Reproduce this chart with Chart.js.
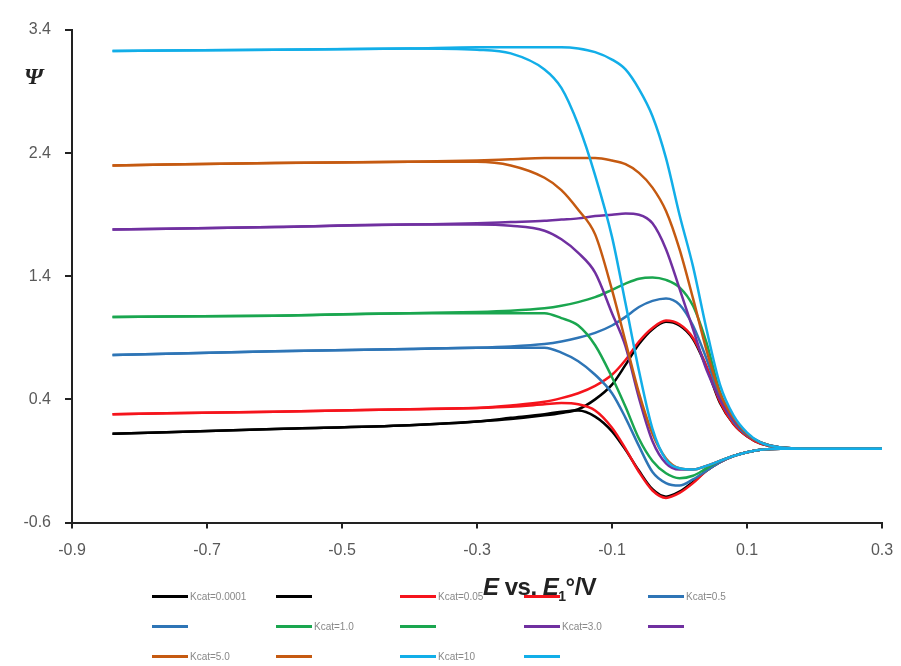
<!DOCTYPE html>
<html>
<head>
<meta charset="utf-8">
<script src="https://cdn.jsdelivr.net/npm/chart.js@4/dist/chart.umd.min.js"></script>
<style>
  body { margin: 0; background: #fff; }
  #wrap { position: relative; width: 901px; height: 666px; }
  #psi { position: absolute; left: 24px; top: 64px; font: italic bold 24px 'Liberation Serif', serif; color: #222; line-height: 1; }
  #xtitle { position: absolute; left: 483px; top: 575px; font: bold 24px 'Liberation Sans', sans-serif; color: #222; white-space: nowrap; line-height: 1; letter-spacing: -0.5px; }
  #xtitle sub { font-size: 14px; }
  #legend { position: absolute; left: 152px; top: 588px; display: grid; grid-template-columns: repeat(5, 124px); grid-auto-rows: 30px; }
  .item { display: flex; align-items: center; height: 16px; font: 10px 'Liberation Sans', sans-serif; color: #888; }
  .item span.ln { display: inline-block; width: 36px; height: 3px; margin-right: 2px; }
</style>
</head>
<body>
<div id="wrap">
  <canvas id="cv"></canvas>
  <div id="psi">Ψ</div>
  <div id="xtitle"><i>E</i> vs. <i>E</i><sub>1</sub>°/V</div>
  <div id="legend"></div>
</div>
<script>
// potentiel (V) - grille commune aux deux branches
var E = [-0.84, -0.6, -0.4, -0.3, -0.25, -0.2, -0.175, -0.15, -0.125, -0.1, -0.08, -0.06, -0.04, -0.02, 0, 0.02, 0.04, 0.06, 0.08, 0.1, 0.12, 0.15, 0.2, 0.3];

var xTicks = [-0.9, -0.7, -0.5, -0.3, -0.1, 0.1, 0.3];
var yTicks = [-0.6, 0.4, 1.4, 2.4, 3.4];

var seriesNames = ['Kcat=0.0001', 'Kcat=0.05', 'Kcat=0.5', 'Kcat=1.0', 'Kcat=3.0', 'Kcat=5.0', 'Kcat=10'];
var seriesColors = ['#000000', '#f5141c', '#2e75b6', '#1aa64f', '#7030a0', '#c55a11', '#12aee8'];

// branche haute / branche basse pour chaque kcat
var k00001Up = [0.12, 0.16, 0.19, 0.22, 0.24, 0.27, 0.29, 0.32, 0.40, 0.52, 0.68, 0.85, 0.97, 1.03, 1.00, 0.89, 0.66, 0.37, 0.20, 0.10, 0.04, 0.01, 0.0, 0.0];
var k00001Down = [0.12, 0.16, 0.19, 0.22, 0.25, 0.28, 0.30, 0.31, 0.26, 0.14, -0.01, -0.18, -0.33, -0.39, -0.35, -0.27, -0.18, -0.11, -0.06, -0.03, -0.01, 0.0, 0.0, 0.0];

var k005Up = [0.28, 0.30, 0.32, 0.33, 0.35, 0.38, 0.41, 0.45, 0.51, 0.60, 0.72, 0.87, 0.98, 1.04, 1.01, 0.90, 0.67, 0.38, 0.20, 0.10, 0.04, 0.01, 0.0, 0.0];
var k005Down = [0.28, 0.30, 0.32, 0.33, 0.34, 0.36, 0.37, 0.36, 0.31, 0.17, 0.0, -0.19, -0.34, -0.40, -0.36, -0.28, -0.18, -0.11, -0.06, -0.03, -0.01, 0.0, 0.0, 0.0];

var k05Up = [0.76, 0.79, 0.81, 0.82, 0.83, 0.85, 0.87, 0.90, 0.94, 1.00, 1.07, 1.15, 1.20, 1.22, 1.17, 1.00, 0.73, 0.42, 0.22, 0.11, 0.05, 0.01, 0.0, 0.0];
var k05Down = [0.76, 0.79, 0.81, 0.82, 0.82, 0.82, 0.78, 0.71, 0.60, 0.45, 0.25, 0.02, -0.19, -0.28, -0.30, -0.25, -0.18, -0.11, -0.06, -0.03, -0.01, 0.0, 0.0, 0.0];

var k1Up = [1.07, 1.08, 1.10, 1.11, 1.12, 1.14, 1.16, 1.19, 1.23, 1.29, 1.34, 1.38, 1.39, 1.37, 1.31, 1.16, 0.86, 0.46, 0.24, 0.12, 0.05, 0.01, 0.0, 0.0];
var k1Down = [1.07, 1.08, 1.10, 1.10, 1.10, 1.10, 1.06, 1.00, 0.84, 0.58, 0.34, 0.08, -0.10, -0.20, -0.24, -0.22, -0.16, -0.10, -0.06, -0.03, -0.01, 0.0, 0.0, 0.0];

var k3Up = [1.78, 1.80, 1.82, 1.83, 1.84, 1.85, 1.86, 1.87, 1.89, 1.90, 1.91, 1.90, 1.83, 1.62, 1.30, 0.97, 0.64, 0.40, 0.23, 0.12, 0.05, 0.01, 0.0, 0.0];
var k3Down = [1.78, 1.80, 1.82, 1.82, 1.81, 1.77, 1.70, 1.59, 1.43, 1.10, 0.83, 0.41, 0.06, -0.12, -0.17, -0.17, -0.14, -0.10, -0.06, -0.03, -0.01, 0.0, 0.0, 0.0];

var k5Up = [2.30, 2.32, 2.33, 2.34, 2.35, 2.36, 2.36, 2.36, 2.36, 2.34, 2.31, 2.24, 2.12, 1.93, 1.62, 1.22, 0.80, 0.45, 0.25, 0.12, 0.05, 0.01, 0.0, 0.0];
var k5Down = [2.30, 2.32, 2.33, 2.33, 2.30, 2.20, 2.10, 1.94, 1.74, 1.29, 0.87, 0.45, 0.12, -0.08, -0.16, -0.17, -0.14, -0.10, -0.06, -0.03, -0.01, 0.0, 0.0, 0.0];

var k10Up = [3.23, 3.24, 3.25, 3.26, 3.26, 3.26, 3.26, 3.25, 3.22, 3.16, 3.08, 2.92, 2.70, 2.36, 1.90, 1.48, 0.97, 0.52, 0.27, 0.13, 0.05, 0.01, 0.0, 0.0];
var k10Down = [3.23, 3.24, 3.25, 3.24, 3.21, 3.08, 2.93, 2.63, 2.22, 1.72, 1.18, 0.63, 0.16, -0.09, -0.16, -0.17, -0.14, -0.10, -0.06, -0.03, -0.01, 0.0, 0.0, 0.0];

var branches = [
    [k00001Up, k00001Down],
    [k005Up, k005Down],
    [k05Up, k05Down],
    [k1Up, k1Down],
    [k3Up, k3Down],
    [k5Up, k5Down],
    [k10Up, k10Down]
];

function toPoints(vals) {
    return E.map(function (x, j) { return { x: x, y: vals[j] }; });
}

var datasets = [];
branches.forEach(function (pair, i) {
    pair.forEach(function (vals, b) {
        datasets.push({
            label: b === 0 ? seriesNames[i] : '',
            data: toPoints(vals),
            borderColor: seriesColors[i],
            backgroundColor: seriesColors[i],
            borderWidth: 2.5,
            showLine: true,
            pointRadius: 0,
            cubicInterpolationMode: 'monotone'
        });
    });
});
// le dernier jeu de données dessiné au-dessus (comme Excel)
datasets.forEach(function (ds, i) { ds.order = datasets.length - i; });

var tickFont = { family: "'Liberation Sans Narrow', 'Liberation Sans', sans-serif", size: 16 };

var ctx = document.getElementById('cv').getContext('2d');
var chart = new Chart(ctx, {
    type: 'scatter',
    data: { datasets: datasets },
    options: {
        responsive: true,
        maintainAspectRatio: false,
        animation: false,
        layout: { padding: { top: 30, right: 19, bottom: 0, left: 0 } },
        plugins: { legend: { display: false }, tooltip: { enabled: false } },
        scales: {
            x: {
                type: 'linear',
                min: -0.9,
                max: 0.3,
                afterBuildTicks: function (scale) { scale.ticks = xTicks.map(function (v) { return { value: v }; }); },
                afterFit: function (scale) { scale.height = 666 - 522.5; scale.paddingLeft = 0; scale.paddingRight = 0; },
                ticks: { color: '#595959', font: tickFont, padding: 12, maxRotation: 0,
                    callback: function (v) { return v.toFixed(1); } },
                grid: { drawOnChartArea: false, color: '#222', tickLength: 6, lineWidth: 2 },
                border: { color: '#222', width: 2 }
            },
            y: {
                type: 'linear',
                min: -0.6,
                max: 3.4,
                afterBuildTicks: function (scale) { scale.ticks = yTicks.map(function (v) { return { value: v }; }); },
                afterFit: function (scale) { scale.width = 72; scale.paddingTop = 0; scale.paddingBottom = 0; },
                ticks: { color: '#595959', font: tickFont, padding: 14,
                    callback: function (v) { return v.toFixed(1); } },
                grid: { drawOnChartArea: false, color: '#222', tickLength: 7, lineWidth: 2 },
                border: { color: '#222', width: 2 }
            }
        }
    }
});

// légende en grille (5 colonnes), entrées sans nom pour la 2e branche
var legendEl = document.getElementById('legend');
datasets.forEach(function (ds) {
    var item = document.createElement('div');
    item.className = 'item';
    var ln = document.createElement('span');
    ln.className = 'ln';
    ln.style.background = ds.borderColor;
    item.appendChild(ln);
    item.appendChild(document.createTextNode(ds.label));
    legendEl.appendChild(item);
});
</script>
</body>
</html>
